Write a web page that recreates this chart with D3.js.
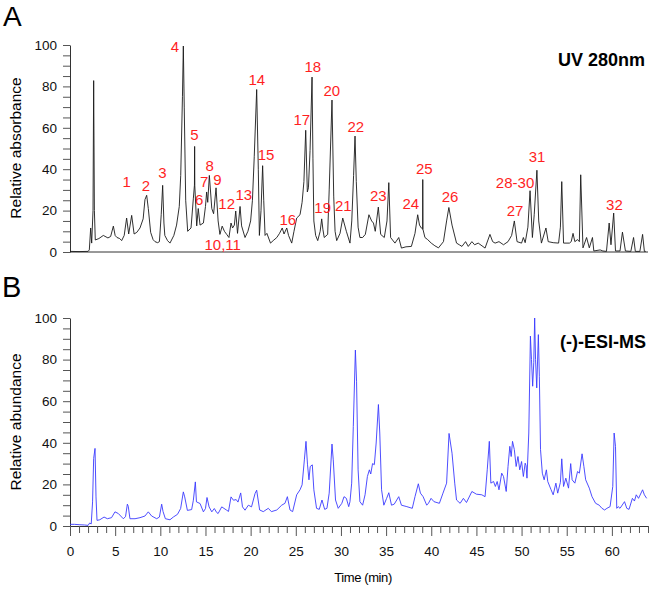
<!DOCTYPE html>
<html>
<head>
<meta charset="utf-8">
<script src="https://cdn.jsdelivr.net/npm/d3@7/dist/d3.min.js"></script>
<style>
  body { margin: 0; background: #fff; }
  svg { display: block; font-family: "Liberation Sans", Arial, sans-serif; }
</style>
</head>
<body>
<svg id="chart" width="650" height="589"></svg>
<script>
// UV 280nm trace, [time (min), relative absorbance]
const uvTrace = [
  [0,0.3],[1.0,0.2],[2.0,0.3],[2.14,1],[2.29,11.6],[2.4,4.3],[2.55,20],[2.62,82.8],[2.7,20],[2.8,5.8],
  [3.2,6.5],[3.69,8],[4.2,6.8],[4.5,7.5],[4.8,12.5],[5.0,8],[5.2,7],[5.5,6.5],[5.72,5.5],[6.0,8],
  [6.27,16.4],[6.5,8.7],[6.83,17.7],[7.1,8.7],[7.4,9.5],[7.75,11.6],[8.1,16],[8.3,25.3],[8.49,27.4],[8.67,21],
  [8.93,9.5],[9.2,6],[9.41,5],[9.7,4.5],[9.9,5],[10.1,18],[10.26,32.2],[10.4,14],[10.5,8],[10.8,5.5],
  [11.07,4.3],[11.5,8],[11.8,13],[12.1,22],[12.26,37],[12.45,75],[12.55,99.5],[12.65,70],[12.81,25],[13.03,10],
  [13.4,11.6],[13.66,26],[13.78,32.3],[13.8,51],[13.82,32],[14.03,12.6],[14.2,21],[14.4,13],[14.77,14],[15.0,22],
  [15.13,29],[15.25,24],[15.43,37],[15.7,21],[15.9,18.5],[16.17,31],[16.4,15],[16.6,8.5],[16.85,12.5],[17.1,10],
  [17.35,8.5],[17.6,7],[17.83,14],[18.0,11.6],[18.2,13],[18.35,19.8],[18.55,9],[18.83,22],[19.0,12.6],[19.38,7],
  [19.7,10],[20.0,15],[20.2,25],[20.4,46],[20.67,78.5],[20.85,40],[20.97,8],[21.15,20],[21.33,41.7],[21.45,25],
  [21.6,8],[21.8,9],[22.2,4.3],[22.5,5.5],[22.9,7],[23.2,9],[23.5,11.6],[23.7,8.7],[24.0,11.6],[24.2,8],
  [24.55,4.3],[24.8,10],[25.1,16.4],[25.47,18],[25.7,24],[25.9,34],[26.1,58.8],[26.28,29],[26.4,31],[26.58,49],
  [26.8,84.5],[26.9,45],[27.0,15],[27.2,8],[27.43,5.5],[27.7,10],[27.87,16],[28.0,11],[28.15,7],[28.53,8.5],
  [28.7,30],[29.01,73.4],[29.2,27],[29.35,10],[29.53,5.5],[29.9,9],[30.2,16.4],[30.6,10],[31.0,4.3],[31.2,15],
  [31.4,37],[31.56,56],[31.7,34],[31.9,12],[32.1,7],[32.4,7],[32.7,8.5],[33.1,18],[33.4,15],[33.6,14],
  [33.8,10],[34.14,21.7],[34.4,8.5],[34.8,7],[35.1,15],[35.3,33.5],[35.5,7],[35.98,4.3],[36.4,7],[36.7,1.9],
  [37.2,2.5],[37.8,2.7],[38.2,9],[38.5,18],[38.7,13],[38.9,11.6],[39.05,11],[39.06,35],[39.08,11],[39.3,7],
  [39.6,6],[40.0,4.3],[40.4,3],[40.8,2],[41.35,5],[41.7,15],[41.95,21.5],[42.3,13],[42.8,4.3],[43.1,3.5],
  [43.4,2.7],[43.8,5],[44.1,2.7],[44.5,5],[44.8,3.5],[45.2,4.3],[45.96,1.9],[46.5,8.5],[46.8,5],[47.07,4.3],
  [47.5,5],[48.0,3.5],[48.5,5],[48.9,8],[49.2,15],[49.5,5],[50.0,4.3],[50.2,7],[50.4,4.5],[50.7,12],
  [50.94,29.6],[51.2,7],[51.4,18],[51.7,39.5],[51.9,15],[52.2,4.3],[52.7,11.6],[52.95,5],[53.5,4.5],[54.1,4.3],
  [54.3,12],[54.45,34],[54.65,4.3],[55.3,4.3],[55.5,5],[55.7,9],[55.9,5],[56.2,6],[56.4,5],[56.55,37.3],
  [56.8,2],[57.2,7],[57.5,2],[57.85,7],[58.0,0.5],[58.7,1],[59.0,0.5],[59.4,0.3],[59.7,14],[59.9,3.5],
  [60.2,18.8],[60.4,0.5],[60.9,0.5],[61.17,9.6],[61.5,0.5],[62.1,0.3],[62.4,7],[62.6,0.3],[63.1,0.3],[63.4,8.5],
  [63.6,0.3],[63.75,0.3]
]

// (-)-ESI-MS trace, [time (min), relative abundance]
const msTrace = [
  [0,0.8],[0.5,0.8],[1.1,0.6],[1.6,0.5],[2.0,0.3],[2.17,1.4],[2.35,1],[2.5,11.6],[2.62,32.5],[2.77,37.3],
  [2.88,14],[2.99,2.7],[3.3,3],[3.77,4.3],[4.14,3.5],[4.6,4],[4.98,6.8],[5.35,6],[5.9,3.5],[6.15,4.5],
  [6.35,10.5],[6.45,9.5],[6.64,3.5],[7.2,3.5],[7.75,4],[8.3,4.8],[8.67,6.8],[9.04,4.8],[9.6,3.5],[9.9,4.3],
  [10.15,10.5],[10.3,7],[10.56,3.5],[11.07,3],[11.44,4.3],[11.9,5.6],[12.25,8.4],[12.55,16.4],[12.7,14],[13.0,7.5],
  [13.47,7.9],[13.66,12.4],[13.88,21.2],[14.0,11.6],[14.4,10.8],[14.77,6.8],[15.0,8.4],[15.17,13.7],[15.4,9.2],[15.7,6.8],
  [15.98,8.4],[16.24,6.5],[16.4,6],[16.8,9.2],[17.35,7.6],[17.55,7],[17.83,14],[18.1,12.4],[18.4,12.7],[18.6,11.5],
  [18.9,15.9],[19.1,9.2],[19.38,7.6],[19.75,10],[20.1,9.2],[20.49,15.6],[20.67,17.2],[21.0,7.7],[21.4,6.9],[21.96,8.5],
  [22.3,6.9],[22.9,7.7],[23.44,10],[23.8,10.9],[24.07,14.1],[24.36,7.7],[24.65,6.9],[25.1,15],[25.47,17.4],[25.7,19.8],
  [25.95,31.8],[26.13,40.7],[26.3,29.4],[26.46,22.2],[26.6,28.6],[26.83,29.4],[27.0,17.4],[27.3,8.5],[27.6,8],[27.9,12.5],
  [28.2,8],[28.45,8.5],[28.7,15.8],[29.01,39.4],[29.15,31.8],[29.4,12.5],[29.7,8.5],[30.1,10.9],[30.34,14.1],[30.6,13.3],
  [30.86,9.3],[31.0,11.7],[31.19,20.6],[31.37,47.9],[31.6,84.6],[31.73,69.6],[31.9,27],[32.1,11.7],[32.4,10],[32.67,15],
  [32.93,23.8],[33.15,27],[33.3,25],[33.5,30],[33.7,29.5],[33.9,39.9],[34.15,58.4],[34.3,44.7],[34.5,17.4],[34.75,10],
  [35.06,13.3],[35.3,16],[35.6,10],[35.9,10.5],[36.4,14.1],[36.7,10],[37.3,9.3],[37.9,8.5],[38.2,14.1],[38.57,20.3],
  [38.8,15.8],[39.1,14.1],[39.5,10],[39.7,11],[39.98,13.3],[40.3,11.7],[40.9,10.9],[41.3,15.8],[41.7,20.6],[41.97,44.5],
  [42.3,35],[42.6,20.6],[42.8,12.5],[43.2,10.9],[43.56,13.3],[43.9,11.3],[44.5,16.6],[45.0,15.3],[45.6,15],[45.96,14.1],
  [46.2,27],[46.43,40.7],[46.6,20.6],[46.9,21.4],[47.1,19],[47.3,21.4],[47.5,17.4],[47.8,25.4],[48.0,23.8],[48.3,16.6],
  [48.5,28.6],[48.7,38.3],[48.85,33.4],[49.0,40.7],[49.2,36.7],[49.4,28.6],[49.6,33.4],[49.8,27],[50.0,31],[50.2,23.8],
  [50.4,30.2],[50.5,29],[50.6,23],[50.8,44.7],[50.98,91.3],[51.1,80],[51.23,67.2],[51.35,78.5],[51.45,100],[51.55,80],
  [51.68,66.4],[51.86,92],[51.97,72],[52.1,36.7],[52.3,25.4],[52.5,22.2],[52.75,27],[52.9,21.4],[53.27,17.4],[53.5,15],
  [53.8,20.6],[54.0,15.8],[54.3,21],[54.45,32.3],[54.65,19],[54.9,23],[55.2,18.2],[55.44,30],[55.6,22.2],[55.9,20.6],
  [56.2,26.2],[56.4,25.4],[56.7,34.7],[56.9,28.6],[57.1,22.2],[57.5,18.2],[57.8,14.1],[58.2,10.9],[58.6,10],[58.9,8.5],
  [59.2,7.7],[59.45,8.5],[59.8,9.3],[60.1,19],[60.25,44.7],[60.4,38.3],[60.54,8.5],[60.7,9.3],[60.9,8.5],[61.4,11.7],
  [61.65,8.5],[61.9,8],[62.27,13.3],[62.5,12],[62.7,15],[62.95,13.3],[63.4,17.4],[63.6,15],[63.85,13.3]
]

// peak numbers: text, time, height of label centre
const peakNames = ['1','2','3','4','5','6','7','8','9','10,11','12','13','14','15','16',
  '17','18','19','20','21','22','23','24','25','26','27','28-30','31','32']
const peakTimes = [6.28,8.42,10.22,11.63,13.77,14.29,14.87,15.47,16.31,16.91,17.35,19.24,20.68,21.71,24.11,
  25.66,26.88,27.98,28.98,30.27,31.64,34.14,37.73,39.24,42.08,49.28,49.28,51.72,60.28]
const peakLevels = [34,32,38.5,99.2,56.9,25.5,34,42,35.1,3.4,23.5,27.9,83.4,47.2,15.8,
  64.1,89.5,21.6,77.8,22.4,60.5,27.2,23.5,40.4,26.7,20,33.7,46,23]

const yTicks = d3.range(0, 101, 5)
const xTicks = d3.range(0, 65, 1)

const svg = d3.select('#chart')
const font = '"Liberation Sans", Arial, sans-serif'

let x = d3.scaleLinear().domain([0, 64]).range([70, 648])
let yTop = d3.scaleLinear().domain([0, 100]).range([252, 45])
let yBot = d3.scaleLinear().domain([0, 100]).range([526, 318])

function yAxis(g, scale) {
  g.attr('transform', 'translate(70,0)')
    .call(d3.axisLeft(scale)
      .tickValues(yTicks)
      .tickSize(7)
      .tickSizeOuter(0)
      .tickPadding(6)
      .tickFormat(d => d % 20 === 0 ? d : ''))
  g.select('.domain').attr('stroke', '#333')
  g.selectAll('.tick line').attr('stroke', '#555')
  g.selectAll('.tick text')
    .style('font-size', '13.5px')
    .style('font-family', font)
    .attr('fill', '#111')
}

// panel A
svg.append('g').call(yAxis, yTop)
svg.append('line')
  .attr('x1', x(0)).attr('x2', x(64))
  .attr('y1', yTop(0)).attr('y2', yTop(0))
  .attr('stroke', '#333')

let lineTop = d3.line().x(d => x(d[0])).y(d => yTop(d[1]))
svg.append('path')
  .attr('d', lineTop(uvTrace))
  .attr('fill', 'none')
  .attr('stroke', '#1a1a1a')
  .attr('stroke-width', 0.9)

svg.append('g')
  .selectAll('text')
  .data(peakNames)
  .join('text')
  .attr('x', (d, i) => x(peakTimes[i]))
  .attr('y', (d, i) => yTop(peakLevels[i]))
  .attr('text-anchor', 'middle')
  .attr('dominant-baseline', 'central')
  .attr('fill', '#ff1f1f')
  .style('font-size', '15px')
  .text(d => d)

// panel B
svg.append('g').call(yAxis, yBot)

let xg = svg.append('g')
  .attr('transform', 'translate(0,' + yBot(0) + ')')
  .call(d3.axisBottom(x)
    .tickValues(xTicks)
    .tickSize(7)
    .tickSizeOuter(0)
    .tickFormat(d => d % 5 === 0 ? d : ''))
xg.select('.domain').attr('stroke', '#333')
xg.selectAll('.tick line')
  .attr('stroke', '#555')
  .attr('y2', d => d % 5 === 0 ? 10 : 7)
xg.selectAll('.tick text')
  .attr('y', 20)
  .style('font-size', '13.5px')
  .style('font-family', font)
  .attr('fill', '#111')

let lineBot = d3.line().x(d => x(d[0])).y(d => yBot(d[1]))
svg.append('path')
  .attr('d', lineBot(msTrace))
  .attr('fill', 'none')
  .attr('stroke', '#3a3aff')
  .attr('stroke-width', 0.9)

// titles and panel letters
svg.append('text')
  .attr('x', 363).attr('y', 582)
  .attr('text-anchor', 'middle')
  .style('font-size', '13px')
  .style('letter-spacing', '-0.4px')
  .text('Time (min)')

svg.append('text')
  .attr('transform', 'translate(21,148) rotate(-90)')
  .attr('text-anchor', 'middle')
  .style('font-size', '15.5px')
  .text('Relative absorbance')

svg.append('text')
  .attr('transform', 'translate(21,422) rotate(-90)')
  .attr('text-anchor', 'middle')
  .style('font-size', '15.5px')
  .text('Relative abundance')

svg.append('text')
  .attr('x', 3).attr('y', 26)
  .style('font-size', '28px')
  .text('A')

svg.append('text')
  .attr('x', 2).attr('y', 297)
  .style('font-size', '29px')
  .text('B')

svg.append('text')
  .attr('x', 645).attr('y', 66)
  .attr('text-anchor', 'end')
  .style('font-size', '18px')
  .style('font-weight', 'bold')
  .text('UV 280nm')

svg.append('text')
  .attr('x', 646).attr('y', 348)
  .attr('text-anchor', 'end')
  .style('font-size', '18px')
  .style('font-weight', 'bold')
  .text('(-)-ESI-MS')
</script>
</body>
</html>
